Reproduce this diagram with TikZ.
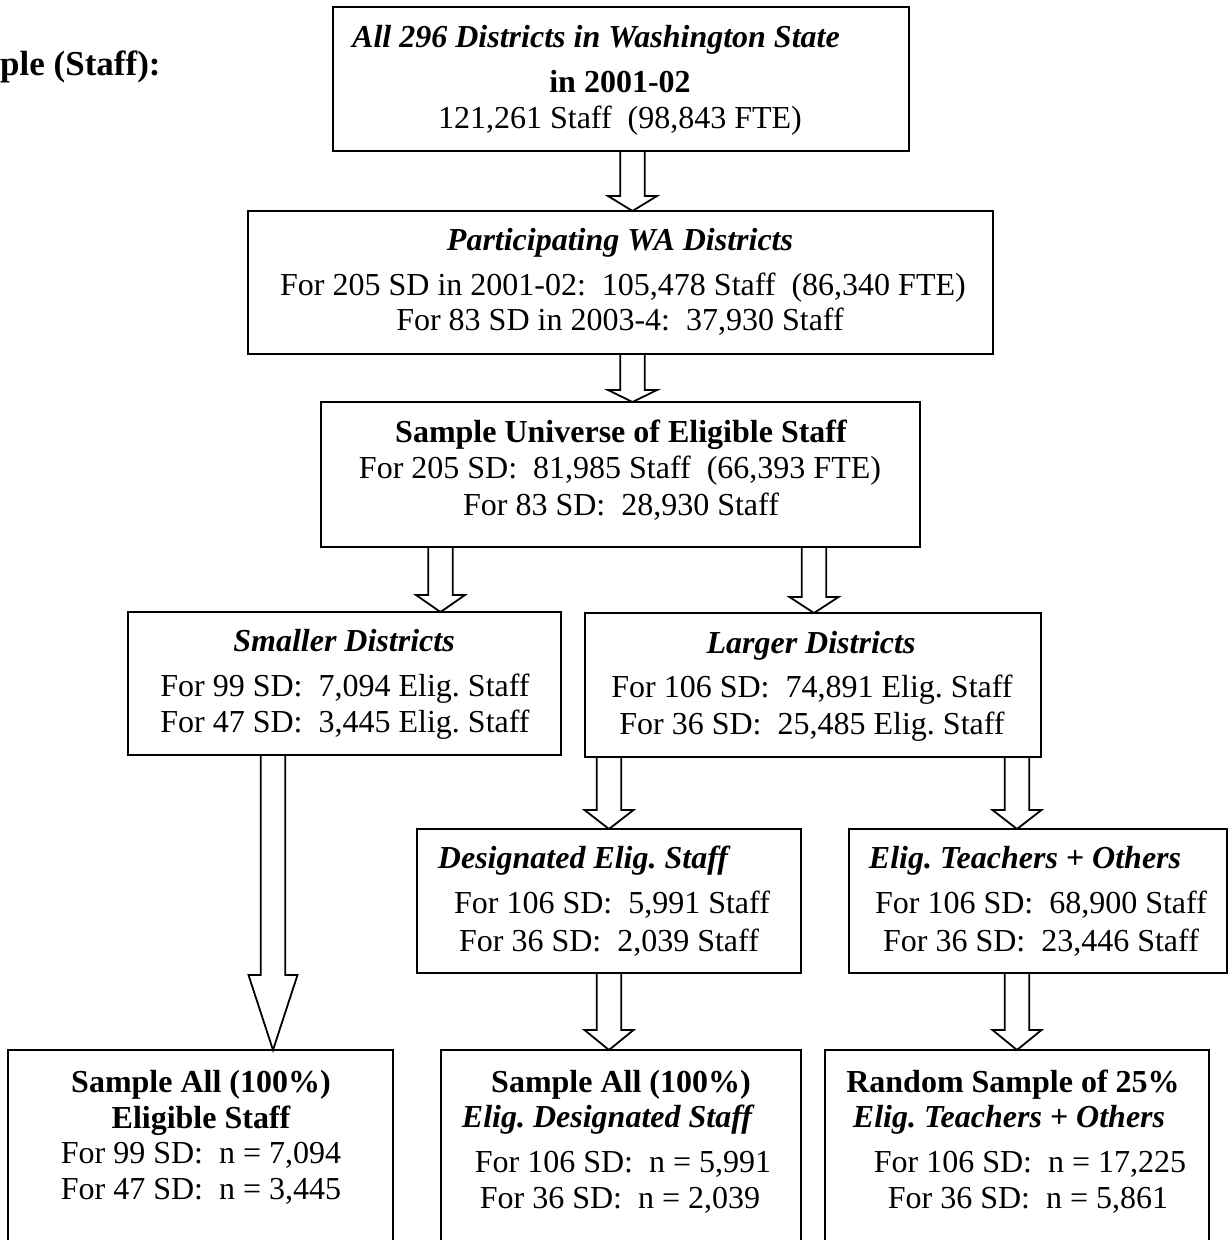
\documentclass[tikz,border=0pt]{standalone}
\usepackage{fontspec}
\setmainfont{Liberation Serif}
\usetikzlibrary{calc}
\newcommand\blockarrow[4]{% #1 centre x, #2 source node, #3 target node, #4 head length
  \draw[blk] let \p1=(#2.south), \p2=(#3.north) in
    ({#1pt-12.25pt},\y1) -- ({#1pt-12.25pt},{\y2+#4pt}) -- ({#1pt-24.5pt},{\y2+#4pt})
    -- (#1pt,\y2) -- ({#1pt+24.5pt},{\y2+#4pt}) -- ({#1pt+12.25pt},{\y2+#4pt})
    -- ({#1pt+12.25pt},\y1);
}
\begin{document}
\begin{tikzpicture}[x=1pt,y=-1pt,
  box/.style={draw,line width=1.8pt,outer sep=0pt,inner sep=0pt,anchor=north west},
  txt/.style={anchor=base,inner sep=0pt,font=\fontsize{32}{36}\selectfont\frenchspacing},
  blk/.style={draw,line width=1.8pt,line join=miter}]
\useasboundingbox (0,0) rectangle (1228,1240);
\fill[white] (0,0) rectangle (1228,1240);
\clip (0,0) rectangle (1228,1240);

% title
\node[anchor=base west,inner sep=0pt,font=\fontsize{35}{40}\selectfont\bfseries] (title) at (0,75) {ple (Staff):};

% boxes
\node[box,minimum width=576,minimum height=144] (b1) at (333,7) {};
\node[box,minimum width=745,minimum height=143] (b2) at (248,211) {};
\node[box,minimum width=599,minimum height=145] (b3) at (321,402) {};
\node[box,minimum width=433,minimum height=143] (sm) at (128,612) {};
\node[box,minimum width=456,minimum height=144] (lg) at (585,613) {};
\node[box,minimum width=384,minimum height=144] (ds) at (417,829) {};
\node[box,minimum width=378,minimum height=144] (et) at (849,829) {};
\node[box,minimum width=385,minimum height=260] (bl) at (8,1050) {};
\node[box,minimum width=360,minimum height=260] (bm) at (441,1050) {};
\node[box,minimum width=384,minimum height=260] (br) at (825,1050) {};

% texts
\node[txt] (b1a) at (596,47) {\bfseries\itshape All 296 Districts in Washington State};
\node[txt] (b1b) at (620,92) {\bfseries in 2001-02};
\node[txt] (b1c) at (620,128) {121,261 Staff~ (98,843 FTE)};

\node[txt] (b2a) at (620,250) {\bfseries\itshape Participating WA Districts};
\node[txt] (b2b) at (623,295) {For 205 SD in 2001-02:~ 105,478 Staff~ (86,340 FTE)};
\node[txt] (b2c) at (620,330) {For 83 SD in 2003-4:~ 37,930 Staff};

\node[txt] (b3a) at (621,442) {\bfseries Sample Universe of Eligible Staff};
\node[txt] (b3b) at (620,478) {For 205 SD:~ 81,985 Staff~ (66,393 FTE)};
\node[txt] (b3c) at (621,515) {For 83 SD:~ 28,930 Staff};

\node[txt] (sma) at (344,651) {\bfseries\itshape Smaller Districts};
\node[txt] (smb) at (345,696) {For 99 SD:~ 7,094 Elig. Staff};
\node[txt] (smc) at (345,732) {For 47 SD:~ 3,445 Elig. Staff};

\node[txt] (lga) at (811,653) {\bfseries\itshape Larger Districts};
\node[txt] (lgb) at (812,697) {For 106 SD:~ 74,891 Elig. Staff};
\node[txt] (lgc) at (812,734) {For 36 SD:~ 25,485 Elig. Staff};

\node[txt] (dsa) at (583,868) {\bfseries\itshape Designated Elig. Staff};
\node[txt] (dsb) at (612,913) {For 106 SD:~ 5,991 Staff};
\node[txt] (dsc) at (609,951) {For 36 SD:~ 2,039 Staff};

\node[txt] (eta) at (1025,868) {\bfseries\itshape Elig. Teachers + Others};
\node[txt] (etb) at (1041,913) {For 106 SD:~ 68,900 Staff};
\node[txt] (etc) at (1041,951) {For 36 SD:~ 23,446 Staff};

\node[txt] (bla) at (201,1092) {\bfseries Sample All (100\%)};
\node[txt] (blb) at (201,1128) {\bfseries Eligible Staff};
\node[txt] (blc) at (201,1163) {For 99 SD:~ n = 7,094};
\node[txt] (bld) at (201,1199) {For 47 SD:~ n = 3,445};

\node[txt] (bma) at (621,1092) {\bfseries Sample All (100\%)};
\node[txt] (bmb) at (607,1127) {\bfseries\itshape Elig. Designated Staff};
\node[txt] (bmc) at (623,1172) {For 106 SD:~ n = 5,991};
\node[txt] (bmd) at (620,1208) {For 36 SD:~ n = 2,039};

\node[txt] (bra) at (1013,1092) {\bfseries Random Sample of 25\%};
\node[txt] (brb) at (1009,1127) {\bfseries\itshape Elig. Teachers + Others};
\node[txt] (brc) at (1030,1172) {For 106 SD:~ n = 17,225};
\node[txt] (brd) at (1028,1208) {For 36 SD:~ n = 5,861};

% block arrows
\blockarrow{632.5}{b1}{b2}{15}
\blockarrow{632.5}{b2}{b3}{12}
\blockarrow{440.5}{b3}{sm}{17}
\blockarrow{814}{b3}{lg}{16}
\blockarrow{273}{sm}{bl}{75}
\blockarrow{609}{lg}{ds}{19}
\blockarrow{1017}{lg}{et}{19}
\blockarrow{609}{ds}{bm}{20}
\blockarrow{1017}{et}{br}{20}
\end{tikzpicture}
\end{document}
